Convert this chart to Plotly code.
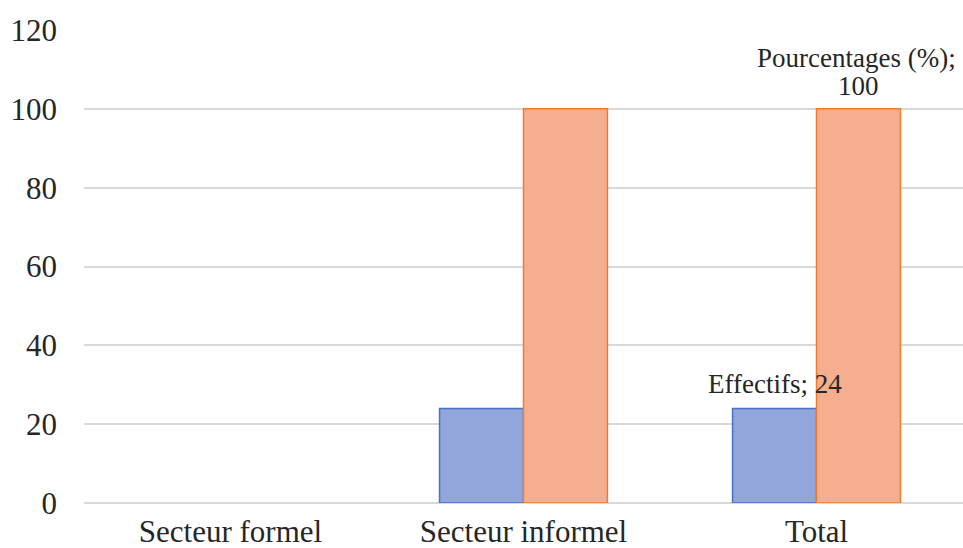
import plotly.graph_objects as go

categories = ["Secteur formel", "Secteur informel", "Total"]
effectifs = [0, 24, 24]
pourcentages = [0, 100, 100]
y_ticks = [0, 20, 40, 60, 80, 100, 120]

font_family = "Liberation Serif"
text_color = "#262626"

def edge_widths(values, w):
    # no outline on empty bars
    return [w if v > 0 else 0 for v in values]

fig = go.Figure()
fig.add_trace(go.Bar(
    x=categories, y=effectifs, name="Effectifs",
    marker=dict(color="#93a6db",
                line=dict(color="#4472c4", width=edge_widths(effectifs, 1.5))),
))
fig.add_trace(go.Bar(
    x=categories, y=pourcentages, name="Pourcentages (%)",
    marker=dict(color="#f5ae8e",
                line=dict(color="#ed7d31", width=edge_widths(pourcentages, 1.5))),
))

# data labels on the Total group ("series; value")
last = len(categories) - 1
label_font = dict(family=font_family, size=27, color=text_color)
fig.add_annotation(x=categories[last], y=effectifs[last], xshift=-42, yshift=7,
                   xanchor="center", yanchor="bottom", showarrow=False,
                   text=f"Effectifs; {effectifs[last]}", font=label_font)
fig.add_annotation(x=categories[last], y=pourcentages[last], xshift=42, yshift=6,
                   xanchor="center", yanchor="bottom", showarrow=False,
                   text=f"{pourcentages[last]}", font=label_font)
fig.add_annotation(x=categories[last], y=pourcentages[last], xshift=40, yshift=34,
                   xanchor="center", yanchor="bottom", showarrow=False,
                   text="Pourcentages (%);", font=label_font)

fig.update_layout(
    width=963, height=548,
    margin=dict(l=84, r=0, t=30, b=45),
    paper_bgcolor="white", plot_bgcolor="white",
    barmode="group", bargap=0.427, bargroupgap=0,
    showlegend=False,
    font=dict(family=font_family, size=22, color=text_color),
    xaxis=dict(showline=False, ticks="", showgrid=False, automargin=False,
               ticklabelstandoff=7,
               tickfont=dict(family=font_family, size=31, color=text_color)),
    yaxis=dict(range=[0, 120], tickvals=y_ticks, showgrid=True, automargin=False,
               gridcolor="#d9d9d9", gridwidth=1.5, zeroline=True,
               zerolinecolor="#d9d9d9", zerolinewidth=1.5,
               showline=False, ticks="", ticklabelstandoff=26,
               tickfont=dict(family=font_family, size=31, color=text_color)),
)

fig.write_html("out.html")
